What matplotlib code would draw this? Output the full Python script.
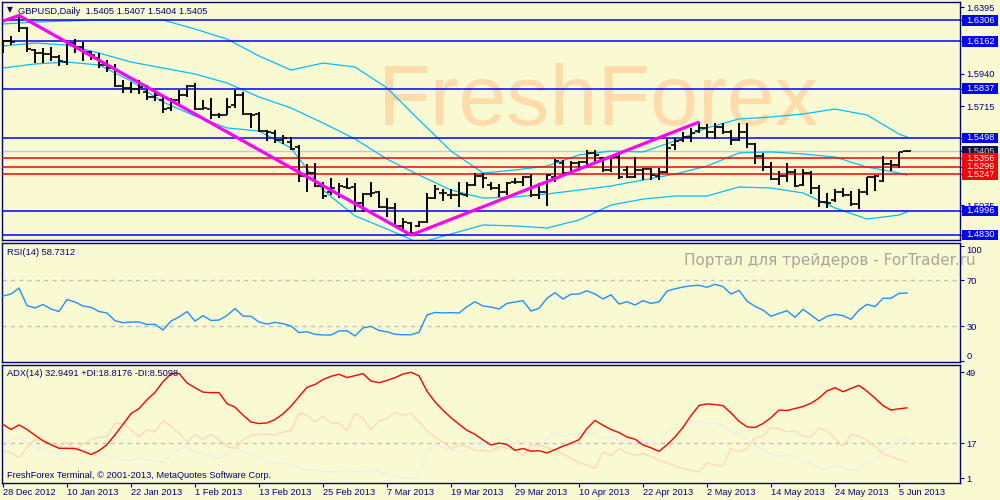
import numpy as np
import matplotlib
matplotlib.use('Agg')
import matplotlib.pyplot as plt
from matplotlib.patches import Rectangle
from matplotlib.transforms import blended_transform_factory

plt.rcParams['font.family'] = ['Liberation Sans', 'DejaVu Sans']

# ---------------- data ----------------
date_labels = ['28 Dec 2012', '10 Jan 2013', '22 Jan 2013', '1 Feb 2013', '13 Feb 2013',
               '25 Feb 2013', '7 Mar 2013', '19 Mar 2013', '29 Mar 2013', '10 Apr 2013',
               '22 Apr 2013', '2 May 2013', '14 May 2013', '24 May 2013', '5 Jun 2013']
date_idx = [0, 8, 16, 24, 32, 40, 48, 56, 64, 72, 80, 88, 96, 104, 112]

opens = [1.6088, 1.6164, 1.6329, 1.6253, 1.6102, 1.6081, 1.6074, 1.6054, 1.6019, 1.6150,
         1.6122, 1.6088, 1.6047, 1.5999, 1.5978, 1.5854, 1.5841, 1.5836, 1.5813, 1.5779,
         1.5758, 1.5703, 1.5758, 1.5792, 1.5854, 1.5696, 1.5696, 1.5655, 1.5655, 1.5724,
         1.5792, 1.5662, 1.5662, 1.5545, 1.5531, 1.5483, 1.5469, 1.5435, 1.5236, 1.5256,
         1.5167, 1.5126, 1.5119, 1.5160, 1.5160, 1.5050, 1.5112, 1.5126, 1.5022, 1.5016,
         1.4892, 1.4912, 1.4892, 1.4919, 1.5084, 1.5119, 1.5105, 1.5105, 1.5105, 1.5174,
         1.5236, 1.5174, 1.5153, 1.5126, 1.5194, 1.5194, 1.5229, 1.5105, 1.5126, 1.5229,
         1.5325, 1.5256, 1.5325, 1.5332, 1.5394, 1.5359, 1.5277, 1.5366, 1.5277, 1.5229,
         1.5277, 1.5284, 1.5236, 1.5263, 1.5449, 1.5483, 1.5504, 1.5545, 1.5566, 1.5538,
         1.5572, 1.5538, 1.5483, 1.5538, 1.5456, 1.5373, 1.5297, 1.5215, 1.5236, 1.5263,
         1.5174, 1.5256, 1.5153, 1.5057, 1.5071, 1.5126, 1.5105, 1.5043, 1.5126, 1.5229,
         1.5201, 1.5318, 1.5311, 1.5405]
highs = [1.6171, 1.6198, 1.6339, 1.6260, 1.6109, 1.6116, 1.6122, 1.6067, 1.6171, 1.6177,
         1.6157, 1.6095, 1.6081, 1.6033, 1.6006, 1.5896, 1.5882, 1.5896, 1.5861, 1.5827,
         1.5779, 1.5772, 1.5827, 1.5861, 1.5875, 1.5758, 1.5772, 1.5669, 1.5772, 1.5827,
         1.5813, 1.5669, 1.5676, 1.5552, 1.5552, 1.5517, 1.5504, 1.5449, 1.5318, 1.5325,
         1.5194, 1.5222, 1.5187, 1.5222, 1.5187, 1.5119, 1.5194, 1.5132, 1.5084, 1.5050,
         1.4947, 1.4919, 1.4926, 1.5119, 1.5174, 1.5146, 1.5146, 1.5194, 1.5194, 1.5256,
         1.5256, 1.5194, 1.5181, 1.5194, 1.5222, 1.5236, 1.5249, 1.5187, 1.5249, 1.5352,
         1.5346, 1.5339, 1.5339, 1.5414, 1.5414, 1.5366, 1.5380, 1.5380, 1.5304, 1.5366,
         1.5291, 1.5291, 1.5291, 1.5490, 1.5497, 1.5538, 1.5566, 1.5607, 1.5593, 1.5600,
         1.5600, 1.5552, 1.5600, 1.5600, 1.5462, 1.5394, 1.5332, 1.5270, 1.5325, 1.5284,
         1.5284, 1.5270, 1.5174, 1.5119, 1.5146, 1.5153, 1.5132, 1.5146, 1.5229, 1.5242,
         1.5373, 1.5346, 1.5401, 1.5407]
lows = [1.6081, 1.6136, 1.6226, 1.6088, 1.6012, 1.6012, 1.6026, 1.5992, 1.5999, 1.6081,
        1.6026, 1.6033, 1.5978, 1.5951, 1.5847, 1.5806, 1.5806, 1.5799, 1.5758, 1.5751,
        1.5669, 1.5682, 1.5717, 1.5779, 1.5689, 1.5689, 1.5628, 1.5634, 1.5655, 1.5703,
        1.5655, 1.5566, 1.5538, 1.5476, 1.5462, 1.5456, 1.5414, 1.5194, 1.5126, 1.5160,
        1.5077, 1.5105, 1.5084, 1.5146, 1.4988, 1.4988, 1.5091, 1.5016, 1.4954, 1.4885,
        1.4864, 1.4830, 1.4885, 1.4912, 1.5077, 1.5064, 1.5077, 1.5022, 1.5091, 1.5167,
        1.5153, 1.5139, 1.5091, 1.5105, 1.5181, 1.5167, 1.5091, 1.5077, 1.5029, 1.5194,
        1.5242, 1.5249, 1.5270, 1.5311, 1.5325, 1.5263, 1.5263, 1.5215, 1.5222, 1.5222,
        1.5208, 1.5208, 1.5208, 1.5256, 1.5414, 1.5469, 1.5469, 1.5531, 1.5497, 1.5490,
        1.5524, 1.5449, 1.5476, 1.5428, 1.5318, 1.5270, 1.5208, 1.5174, 1.5194, 1.5160,
        1.5167, 1.5112, 1.5022, 1.5016, 1.5057, 1.5091, 1.5029, 1.5009, 1.5105, 1.5132,
        1.5194, 1.5270, 1.5291, 1.5404]
closes = [1.6164, 1.6157, 1.6253, 1.6109, 1.6081, 1.6074, 1.6054, 1.6026, 1.6150, 1.6122,
          1.6088, 1.6067, 1.5999, 1.5978, 1.5854, 1.5841, 1.5836, 1.5847, 1.5779, 1.5792,
          1.5696, 1.5758, 1.5792, 1.5854, 1.5696, 1.5703, 1.5655, 1.5655, 1.5710, 1.5792,
          1.5662, 1.5655, 1.5545, 1.5538, 1.5483, 1.5497, 1.5421, 1.5236, 1.5256, 1.5167,
          1.5098, 1.5153, 1.5167, 1.5153, 1.5050, 1.5112, 1.5119, 1.5022, 1.5016, 1.4892,
          1.4919, 1.4844, 1.4919, 1.5084, 1.5146, 1.5119, 1.5105, 1.5112, 1.5174, 1.5236,
          1.5222, 1.5153, 1.5126, 1.5187, 1.5194, 1.5229, 1.5105, 1.5126, 1.5242, 1.5339,
          1.5256, 1.5325, 1.5332, 1.5394, 1.5380, 1.5277, 1.5366, 1.5229, 1.5229, 1.5277,
          1.5284, 1.5242, 1.5263, 1.5428, 1.5476, 1.5504, 1.5531, 1.5566, 1.5538, 1.5572,
          1.5538, 1.5483, 1.5538, 1.5456, 1.5373, 1.5297, 1.5215, 1.5236, 1.5263, 1.5167,
          1.5256, 1.5153, 1.5057, 1.5050, 1.5126, 1.5105, 1.5043, 1.5126, 1.5229, 1.5236,
          1.5318, 1.5311, 1.5401, 1.5405]

# Bollinger bands read at every 4th bar
band_idx = [0, 4, 8, 12, 16, 20, 24, 28, 32, 36, 40, 44, 48, 52, 56, 60, 64, 68, 72, 76,
            80, 84, 88, 92, 96, 100, 104, 108, 112, 113]
bb_upper = [1.6281, 1.6294, 1.6301, 1.6308, 1.6308, 1.6308, 1.6246, 1.6177, 1.6061, 1.5964,
            1.6012, 1.5985, 1.5841, 1.5621, 1.5407, 1.5256, 1.5277, 1.5304, 1.5380, 1.5407,
            1.5401, 1.5476, 1.5566, 1.5628, 1.5641, 1.5662, 1.5696, 1.5655, 1.5524, 1.5504]
bb_middle = [1.6129, 1.6150, 1.6136, 1.6081, 1.6019, 1.5978, 1.5937, 1.5875, 1.5779, 1.5703,
             1.5600, 1.5490, 1.5352, 1.5242, 1.5139, 1.5084, 1.5091, 1.5112, 1.5139, 1.5167,
             1.5208, 1.5249, 1.5304, 1.5394, 1.5401, 1.5387, 1.5366, 1.5297, 1.5256, 1.5242]
bb_lower = [1.5978, 1.6006, 1.6019, 1.5999, 1.5889, 1.5744, 1.5648, 1.5566, 1.5545, 1.5428,
            1.5139, 1.4961, 1.4871, 1.4775, 1.4837, 1.4899, 1.4892, 1.4878, 1.4933, 1.5036,
            1.5077, 1.5098, 1.5098, 1.5160, 1.5153, 1.5119, 1.5016, 1.4940, 1.4967, 1.4988]

trend_idx = [0, 2, 51, 87]
trend_price = [1.6301, 1.6339, 1.4830, 1.5607]

blue_levels = [1.6306, 1.6162, 1.5837, 1.5498, 1.4996, 1.4830]
red_levels = [1.5356, 1.5299, 1.5247]
bid_price = 1.5405
plain_ticks = [1.6395, 1.5940, 1.5715, 1.5035]

rsi = [56.1, 57.8, 63.0, 47.8, 45.7, 48.7, 44.8, 42.6, 53.0, 50.9,
       47.4, 46.3, 42.6, 41.3, 34.6, 32.9, 33.5, 33.5, 31.3, 31.5,
       26.5, 34.3, 37.8, 42.6, 34.3, 39.0, 34.8, 35.2, 39.1, 45.2,
       38.7, 38.4, 33.5, 31.7, 33.2, 32.0, 30.0, 24.3, 25.0, 22.8,
       22.2, 22.2, 25.7, 25.9, 21.3, 28.3, 29.7, 26.1, 25.0, 22.8,
       22.4, 22.4, 24.5, 39.6, 41.8, 41.4, 41.6, 41.3, 46.8, 51.1,
       47.4, 46.5, 44.8, 49.7, 50.9, 52.0, 43.0, 45.4, 54.1, 59.0,
       53.5, 57.6, 57.8, 60.7, 57.8, 53.5, 57.2, 49.1, 51.1, 48.3,
       52.0, 49.7, 50.9, 60.4, 62.4, 63.9, 65.0, 65.4, 63.7, 66.3,
       64.2, 57.8, 61.0, 51.7, 47.1, 43.9, 38.4, 41.0, 43.3, 37.6,
       44.5, 39.6, 34.3, 38.4, 40.2, 39.0, 35.8, 43.9, 48.9, 46.8,
       54.1, 54.1, 58.4, 58.7]
rsi_levels = [70, 30]

adx = [25.4, 23.1, 25.2, 23.1, 20.5, 18.0, 16.2, 14.6, 14.6, 14.5,
       13.3, 11.8, 13.5, 16.3, 20.7, 25.4, 30.3, 32.6, 36.6, 39.9,
       44.8, 48.3, 48.5, 44.2, 42.0, 40.0, 39.8, 39.8, 34.8, 33.2,
       29.6, 26.5, 25.8, 26.1, 27.6, 30.2, 33.7, 38.0, 42.2, 43.5,
       45.7, 47.2, 48.1, 46.6, 47.5, 48.4, 45.0, 44.3, 45.3, 46.6,
       48.2, 49.0, 47.4, 40.4, 35.6, 31.8, 28.4, 25.5, 22.7, 20.9,
       18.4, 16.1, 17.0, 16.3, 13.7, 14.5, 13.3, 13.5, 12.5, 14.0,
       15.6, 16.9, 18.5, 23.6, 27.2, 25.0, 23.1, 21.7, 19.7, 18.7,
       16.1, 14.8, 13.2, 16.2, 19.7, 24.1, 29.4, 34.0, 34.7, 34.4,
       33.9, 30.6, 26.8, 24.3, 24.0, 25.8, 28.5, 31.9, 31.7, 32.6,
       33.5, 35.0, 37.3, 40.6, 42.0, 40.2, 41.7, 43.1, 40.4, 37.3,
       33.9, 31.9, 32.5, 32.9]
minus_di = [13.7, 12.5, 10.4, 15.0, 18.5, 18.0, 16.5, 15.0, 17.5, 13.5,
            16.5, 18.5, 19.7, 19.7, 26.0, 26.0, 23.0, 20.0, 23.0, 22.0,
            27.2, 24.5, 21.5, 17.5, 21.0, 18.5, 21.0, 18.5, 15.5, 14.5,
            18.5, 20.5, 21.0, 21.0, 20.5, 22.0, 22.5, 30.5, 29.5, 26.5,
            29.0, 26.0, 26.0, 22.5, 30.5, 28.0, 23.0, 27.0, 28.0, 31.0,
            29.5, 30.5, 26.5, 22.5, 19.5, 17.5, 14.5, 16.0, 15.5, 13.5,
            13.7, 13.0, 15.5, 14.5, 13.7, 11.2, 16.0, 16.0, 15.0, 13.7,
            12.0, 10.0, 8.2, 7.0, 5.5, 13.0, 11.2, 14.5, 12.5, 11.5,
            12.2, 11.0, 9.2, 8.0, 6.5, 5.5, 4.5, 4.0, 8.0, 7.0,
            6.5, 14.5, 13.0, 14.5, 19.5, 20.0, 24.0, 23.5, 22.0, 22.7,
            20.0, 19.7, 24.0, 22.5, 19.0, 15.5, 21.0, 20.0, 18.2, 15.5,
            12.2, 10.8, 9.5, 8.5]
plus_di = [17, 18, 20, 17, 15, 14, 13, 12, 16, 15, 14, 13, 12, 11,
           10, 9, 9, 10, 9, 9, 8, 12, 14, 16, 13,
           12, 11, 10, 12, 15, 13, 12, 10, 9, 8, 8, 7,
           6, 5, 5, 4, 4, 4, 5, 4, 4, 5, 4, 3, 2, 1.5, 1, 2,
           14, 16, 15, 14, 13, 14, 17, 16,
           15, 14, 16, 17, 18, 16, 15, 19, 22, 20, 21, 21, 22, 21, 19,
           20, 18, 18, 17, 18, 17, 16, 22, 24, 25, 26, 27, 26, 26, 25,
           22, 21, 19, 16, 14, 12, 11, 12, 10, 9,
           8, 6, 5, 7, 6, 5, 5, 9, 9, 14, 15, 18, 18.8]
adx_level = 17

# ---------------- style ----------------
BG = '#FAFAD2'
NAVY = '#000080'
BLUE = '#0000FF'
RED = '#FF0000'
FS = 6.7

fig = plt.figure(figsize=(10, 5), dpi=100, facecolor=BG)


def px_rect(x0, y0, x1, y1):
    return [x0 / 1000, 1 - y1 / 500, (x1 - x0) / 1000, (y1 - y0) / 500]


ax_p = fig.add_axes(px_rect(2, 2, 960, 240))
ax_r = fig.add_axes(px_rect(2, 243, 960, 362))
ax_a = fig.add_axes(px_rect(2, 365, 960, 483))

for ax in (ax_p, ax_r, ax_a):
    ax.set_facecolor(BG)
    ax.set_xlim(-0.125, 119.625)
    for s in ax.spines.values():
        s.set_color(NAVY)
        s.set_linewidth(1.0)
    ax.yaxis.tick_right()
    ax.tick_params(axis='y', direction='out', length=3, width=0.8, color=NAVY,
                   labelcolor=NAVY, labelsize=FS, pad=1.5)
    ax.tick_params(axis='x', bottom=False, labelbottom=False)

idx = np.arange(len(closes))

# ---------------- main price panel ----------------
ax_p.set_ylim(1.47956, 1.64319)
ax_p.text(378 / 1000, 1 - 125 / 500, 'FreshForex', transform=fig.transFigure,
          fontsize=62, color='#FDDCAA', family=['Liberation Sans'],
          ha='left', va='baseline', zorder=0)

ax_p.axhline(bid_price, color='#C8C8C8', lw=1.0, zorder=1)
for band in (bb_upper, bb_middle, bb_lower):
    ax_p.plot(band_idx, band, color='#00BFFF', lw=0.9, zorder=2)
for lv in blue_levels:
    ax_p.axhline(lv, color=BLUE, lw=1.1, zorder=3)
for lv in red_levels:
    ax_p.axhline(lv, color=RED, lw=1.1, zorder=3)

ax_p.vlines(idx, lows, highs, color='black', lw=1.4, zorder=5)
ax_p.hlines(opens, idx - 0.45, idx, color='black', lw=1.2, zorder=5)
ax_p.hlines(closes, idx, idx + 0.45, color='black', lw=1.2, zorder=5)

ax_p.plot(trend_idx, trend_price, color='#FF00FF', lw=2.3, zorder=6,
          solid_capstyle='butt')

all_ticks = plain_ticks + blue_levels + red_levels + [bid_price]
ax_p.set_yticks(all_ticks)
ax_p.set_yticklabels([f'{v:.4f}' if v in plain_ticks else '' for v in all_ticks])

trans = blended_transform_factory(ax_p.transAxes, ax_p.transData)
box_h = 10.5 / 1454.6
box_w = 36 / 958


def box_label(value, fc, tc, z):
    ax_p.add_patch(Rectangle((1 + 2 / 958, value - box_h / 2), box_w, box_h,
                             transform=trans, clip_on=False, fc=fc, ec='none',
                             zorder=z))
    ax_p.text(1 + 6 / 958, value, f'{value:.4f}', transform=trans, ha='left',
              va='center', fontsize=FS, color=tc, clip_on=False, zorder=z + 0.5)


z = 20
for lv in [1.6306, 1.6162, 1.5837, 1.5498]:
    box_label(lv, BLUE, 'white', z); z += 1
box_label(bid_price, '#12124A', '#C8C8C8', z); z += 1
for lv in red_levels:
    box_label(lv, RED, 'white', z); z += 1
for lv in [1.4996, 1.4830]:
    box_label(lv, BLUE, 'white', z); z += 1

# ---------------- RSI panel ----------------
ax_r.set_ylim(-1.3, 102.2)
for lv in rsi_levels:
    ax_r.axhline(lv, color='#C0C0C0', lw=1.0, ls=(0, (3, 3)), zorder=1)
ax_r.plot(idx, rsi, color='#1E90FF', lw=1.0, zorder=3)
ax_r.set_yticks([100, 70, 30, 0])
ax_r.set_yticklabels(['100', '70', '30', '0'])
tl = ax_r.get_yticklabels()
tl[0].set_va('top')
tl[3].set_va('bottom')

# ---------------- ADX panel ----------------
ax_a.set_ylim(-1.1, 52.3)
ax_a.axhline(adx_level, color='#C0C0C0', lw=1.0, ls=(0, (3, 3)), zorder=1)
ax_a.plot(idx, plus_di, color='#EEEEEA', lw=1.0, zorder=2)
ax_a.plot(idx, minus_di, color='#FFD8B8', lw=1.0, zorder=2)
ax_a.plot(idx, adx, color=RED, lw=1.0, zorder=3)
ax_a.set_yticks([49, 17, 1])
ax_a.set_yticklabels(['49', '17', '1'])

ax_a.set_xticks(date_idx)
ax_a.set_xticklabels(date_labels)
ax_a.tick_params(axis='x', bottom=True, labelbottom=True, direction='out',
                 length=3, width=0.8, color=NAVY, labelcolor=NAVY,
                 labelsize=FS, pad=0.8)
for t in ax_a.get_xticklabels():
    t.set_ha('left')

# ---------------- texts ----------------
fig.text(7 / 1000, 1 - 10 / 500, '▼', fontsize=5.5, color=NAVY, va='center',
         family=['DejaVu Sans'])
fig.text(18 / 1000, 1 - 11 / 500, 'GBPUSD,Daily  1.5405 1.5407 1.5404 1.5405',
         fontsize=FS, color=NAVY, va='center')
fig.text(7 / 1000, 1 - 252.5 / 500, 'RSI(14) 58.7312', fontsize=FS, color=NAVY,
         va='center')
fig.text(7 / 1000, 1 - 373.5 / 500, 'ADX(14) 32.9491 +DI:18.8176 -DI:8.5098',
         fontsize=FS, color=NAVY, va='center')
fig.text(7 / 1000, 1 - 475 / 500,
         'FreshForex Terminal, © 2001-2013, MetaQuotes Software Corp.',
         fontsize=FS, color=NAVY, va='center')
fig.text(684 / 1000, 1 - 260.5 / 500, 'Портал для трейдеров - ForTrader.ru',
         fontsize=11, color='#A8A49C', va='center', family=['DejaVu Sans'],
         zorder=10)

fig.savefig('out.png', dpi=100, facecolor=BG)
